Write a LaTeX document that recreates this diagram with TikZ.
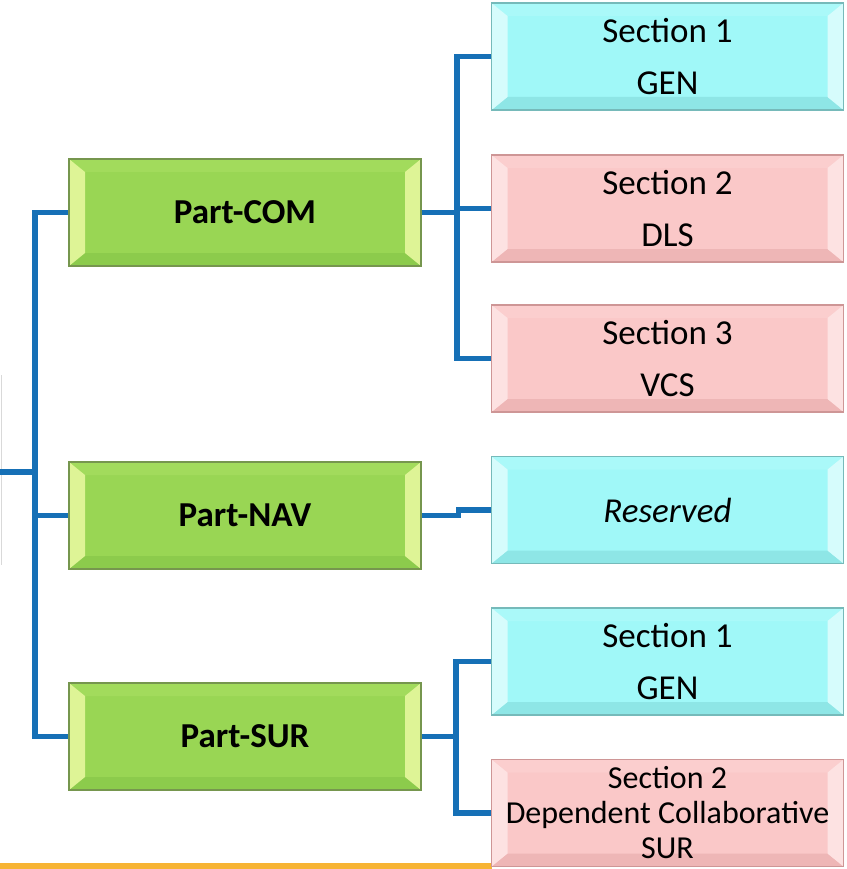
\documentclass[tikz,border=0pt]{standalone}
\usepackage{fontspec}
\setmainfont{Carlito}
\definecolor{grmain}{RGB}{153,214,84}
\definecolor{grside}{RGB}{222,244,150}
\definecolor{grtop}{RGB}{162,219,92}
\definecolor{grbot}{RGB}{140,203,76}
\definecolor{grline}{RGB}{118,150,78}
\definecolor{cymain}{RGB}{160,248,248}
\definecolor{cyside}{RGB}{214,252,252}
\definecolor{cytop}{RGB}{170,249,249}
\definecolor{cybot}{RGB}{142,230,230}
\definecolor{cyline}{RGB}{118,186,186}
\definecolor{pkmain}{RGB}{250,200,200}
\definecolor{pkside}{RGB}{253,226,226}
\definecolor{pktop}{RGB}{251,206,206}
\definecolor{pkbot}{RGB}{238,182,182}
\definecolor{pkline}{RGB}{206,150,150}
\definecolor{linkblue}{RGB}{22,112,182}
\definecolor{barorange}{RGB}{247,180,52}

\begin{document}
\begin{tikzpicture}[x=1pt,y=-1pt,
bevelbox/.style={rectangle, minimum width=352pt, minimum height=107pt, line width=1.2pt, align=center,
  path picture={
    \coordinate (pbl) at (path picture bounding box.south west);
    \coordinate (ptl) at (path picture bounding box.north west);
    \coordinate (pbr) at (path picture bounding box.south east);
    \coordinate (ptr) at (path picture bounding box.north east);
    \fill[bvtop] (ptl) -- (ptr) -- ([shift={(-16pt,-13pt)}]ptr) -- ([shift={(16pt,-13pt)}]ptl) -- cycle;
    \fill[bvbot] (pbl) -- (pbr) -- ([shift={(-16pt,13pt)}]pbr) -- ([shift={(16pt,13pt)}]pbl) -- cycle;
    \fill[bvside] (pbl) -- (ptl) -- ([shift={(16pt,-13pt)}]ptl) -- ([shift={(16pt,13pt)}]pbl) -- cycle;
    \fill[bvside] (pbr) -- (ptr) -- ([shift={(-16pt,-13pt)}]ptr) -- ([shift={(-16pt,13pt)}]pbr) -- cycle;
  }},
partbox/.style={bevelbox, fill=grmain, draw=grline, font=\bfseries\fontsize{35}{40}\selectfont,
  bvside/.style={fill=grside}, bvtop/.style={fill=grtop}, bvbot/.style={fill=grbot}},
genbox/.style={bevelbox, fill=cymain, draw=cyline, font=\fontsize{35}{52}\selectfont,
  bvside/.style={fill=cyside}, bvtop/.style={fill=cytop}, bvbot/.style={fill=cybot}},
restbox/.style={bevelbox, fill=pkmain, draw=pkline, font=\fontsize{35}{52}\selectfont,
  bvside/.style={fill=pkside}, bvtop/.style={fill=pktop}, bvbot/.style={fill=pkbot}},
link/.style={draw=linkblue, line width=5.5pt}
]
    \useasboundingbox (0,0) rectangle (846,869);

    \fill[barorange] (0,863) rectangle (492,869);
    \draw[black!15, line width=1pt] (1,375) -- (1,565);

    \node [partbox] (com) at (245,212.5) {Part-COM};
    \node [partbox] (nav) at (245,515.5) {Part-NAV};
    \node [partbox] (sur) at (245,736.5) {Part-SUR};

    \node [genbox] (comgen) at (667.5,56.5) {Section 1\\GEN};
    \node [restbox] (comdls) at (667.5,208.5) {Section 2\\DLS};
    \node [restbox] (comvcs) at (667.5,358.5) {Section 3\\VCS};

    \node [genbox] (navres) at (667.5,510) {\itshape Reserved};

    \node [genbox] (surgen) at (667.5,661.5) {Section 1\\GEN};
    \node [restbox, font=\fontsize{32}{35}\selectfont] (surdep) at (667.5,813) {Section 2\\Dependent Collaborative\\SUR};

    \coordinate (root) at (0,472);
    \coordinate (jl) at (35,472);
    \coordinate (jc) at (457,212.5);
    \coordinate (js) at (456,736.5);

    \draw [link] (root) -- (jl);
    \draw [link] (com.west) -| (jl) |- (sur.west);
    \draw [link] (nav.west) -| (jl);

    \draw [link] (com.east) -- (jc);
    \draw [link] (comgen.west) -| (jc) |- (comvcs.west);
    \draw [link] (comdls.west) -| (jc);

    \draw [link] (nav.east) -- ++(37,0) |- (navres.west);

    \draw [link] (sur.east) -- (js);
    \draw [link] (surgen.west) -| (js) |- (surdep.west);
\end{tikzpicture}
\end{document}
